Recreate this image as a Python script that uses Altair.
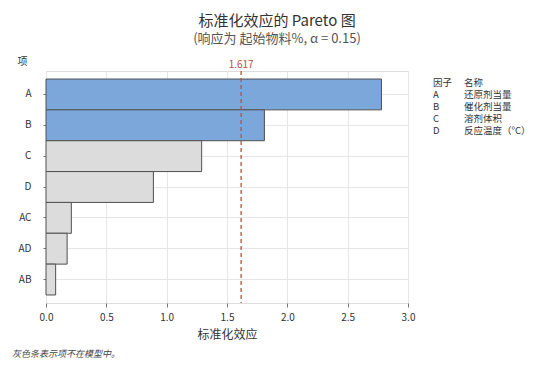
import altair as alt
import pandas as pd

terms = ["A", "B", "C", "D", "AC", "AD", "AB"]
effects = [2.78, 1.81, 1.29, 0.89, 0.21, 0.175, 0.08]
in_model = ["yes", "yes", "no", "no", "no", "no", "no"]
critical = 1.617
factors = ["A", "B", "C", "D"]
names = ["还原剂当量", "催化剂当量", "溶剂体积", "反应温度（°C）"]

FONT = "Noto Sans CJK SC"

df = pd.DataFrame({"term": terms, "effect": effects, "model": in_model})
one = pd.DataFrame({"v": [critical]})
leg = pd.DataFrame({"row": list(range(len(factors) + 1)),
                    "factor": ["因子"] + factors,
                    "name": ["名称"] + names})

bars = alt.Chart(df).mark_bar(stroke="#505050", strokeWidth=1).encode(
    x=alt.X("effect:Q",
            scale=alt.Scale(domain=[0, 3.0], nice=False),
            axis=alt.Axis(title="标准化效应", values=[0, 0.5, 1.0, 1.5, 2.0, 2.5, 3.0],
                          format=".1f", grid=True, gridColor="#e6e6e6",
                          tickSize=4, tickColor="#777", domain=False, labelFlush=False,
                          labelFontSize=10, labelColor="#333", labelFont=FONT,
                          labelPadding=5, titleFontSize=12, titleFont=FONT,
                          titleFontWeight="normal", titleColor="#333", titlePadding=7)),
    y=alt.Y("term:N", sort=terms,
            scale=alt.Scale(paddingInner=0, paddingOuter=0.26),
            axis=alt.Axis(title="项", titleAngle=0, titleX=-24, titleY=-5,
                          titleFontSize=10, titleFont=FONT, titleFontWeight="normal",
                          titleColor="#333", grid=True, gridColor="#e6e6e6",
                          tickSize=3, tickColor="#777", domain=False,
                          labelFontSize=10, labelColor="#333", labelFont=FONT,
                          labelPadding=12)),
    color=alt.Color("model:N", scale=alt.Scale(domain=["yes", "no"],
                                               range=["#7ba7da", "#dcdcdc"]),
                    legend=None),
)

rule = alt.Chart(one).mark_rule(color="#b5523b", strokeDash=[4, 3], strokeWidth=1.3).encode(
    x="v:Q"
)

rule_label = alt.Chart(one).mark_text(color="#b5523b", fontSize=10, font=FONT,
                                      baseline="bottom", dy=-1).encode(
    x="v:Q", y=alt.value(0), text=alt.Text("v:Q", format=".3f")
)

leg_y = alt.Y("row:O", scale=alt.Scale(type="point", range=[12, 60], padding=0), axis=None)
legend_factor = alt.Chart(leg).mark_text(
    align="left", baseline="middle", fontSize=9.5, font=FONT, color="#333"
).encode(x=alt.value(387), y=leg_y, text="factor:N")
legend_name = alt.Chart(leg).mark_text(
    align="left", baseline="middle", fontSize=9.5, font=FONT, color="#333"
).encode(x=alt.value(418), y=leg_y, text="name:N")
legend = alt.layer(legend_factor, legend_name)

blank = pd.DataFrame({"k": [0]})
footer = alt.Chart(blank).mark_text(
    text="灰色条表示项不在模型中。", align="left", baseline="middle", fontSize=9,
    font=FONT, fontStyle="italic", color="#444"
).encode(x=alt.value(-34), y=alt.value(283))

chart = alt.layer(bars, rule, rule_label, legend, footer).resolve_scale(
    y="independent"
).properties(
    width=362, height=232,
    title=alt.TitleParams(text="标准化效应的 Pareto 图",
                          subtitle="(响应为 起始物料%, α = 0.15)",
                          font=FONT, subtitleFont=FONT, fontSize=15, subtitleFontSize=13,
                          fontWeight="normal", color="#333", subtitleColor="#555",
                          anchor="middle", dx=50, offset=10, subtitlePadding=4),
    autosize=alt.AutoSizeParams(type="none"),
    padding={"left": 38, "top": 63, "right": 140, "bottom": 58},
).configure_view(stroke="#777", strokeWidth=1).configure(background="white")

chart.save("out.html", embed_options={"renderer": "svg", "actions": False})
